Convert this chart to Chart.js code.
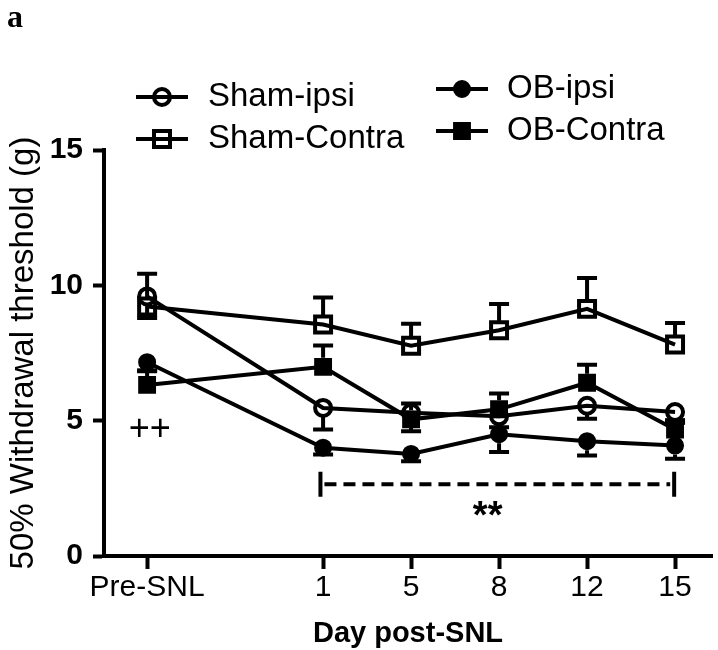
<!DOCTYPE html>
<html lang="en">
<head>
<meta charset="UTF-8">
<title>Withdrawal threshold after SNL</title>
<script src="https://cdn.jsdelivr.net/npm/chart.js@4.4.0/dist/chart.umd.min.js"></script>
<style>
  body { margin: 0; background: #fff; }
  #wrap { position: relative; width: 718px; height: 650px; }
  #panel { position: absolute; left: 7px; top: 0; font: bold 32px "Liberation Serif", serif; line-height: 32px; }
</style>
</head>
<body>
<div id="wrap">
  <canvas id="chart" width="718" height="650"></canvas>
  <div id="panel">a</div>
</div>
<script>
// categories and their slot on the x axis (gap after Pre-SNL)
const dayLabels = ['Pre-SNL', '1', '5', '8', '12', '15'];
const dayPos = [0, 2, 3, 4, 5, 6];

// mean thresholds (g) and SEM
const shamIpsi = [9.59, 5.47, 5.29, 5.16, 5.55, 5.32];
const shamIpsiSem = [0.80, 0.80, 0.68, 0.40, 0.48, 0.30];
const shamContra = [9.22, 8.55, 7.77, 8.34, 9.13, 7.81];
const shamContraSem = [1.21, 1.00, 0.81, 0.97, 1.14, 0.80];
const obIpsi = [7.16, 4.00, 3.77, 4.50, 4.24, 4.08];
const obIpsiSem = [0.30, 0.25, 0.27, 0.66, 0.53, 0.49];
const obContra = [6.32, 6.99, 5.05, 5.42, 6.40, 4.67];
const obContraSem = [0.51, 0.79, 0.58, 0.58, 0.67, 0.25];

const FONT = '"Liberation Sans", Arial, sans-serif';

function pts(vals) {
  return vals.map((v, i) => ({ x: dayPos[i], y: v }));
}

function series(label, vals, sem, dir, style, hollow) {
  const rect = style === 'rect';
  return {
    label: label,
    data: pts(vals),
    sem: sem,
    semDir: dir,
    hollow: hollow,
    markerHalf: 9,
    borderColor: '#000',
    borderWidth: 4,
    tension: 0,
    fill: false,
    pointStyle: style,
    pointRadius: rect ? (hollow ? 11.3 : 10.5) : (hollow ? 8 : 7.5),
    pointBorderWidth: hollow ? 4 : 3,
    pointBorderColor: '#000',
    pointBackgroundColor: hollow ? 'rgba(0,0,0,0)' : '#000'
  };
}

// error bars, one direction per group as in the original
const errorBars = {
  id: 'errorBars',
  afterDatasetsDraw(chart) {
    const { ctx, scales: { x, y } } = chart;
    ctx.save();
    ctx.strokeStyle = '#000';
    ctx.lineWidth = 4;
    ctx.lineCap = 'butt';
    chart.data.datasets.forEach(ds => {
      ds.data.forEach((p, i) => {
        const px = x.getPixelForValue(p.x);
        const py = y.getPixelForValue(p.y);
        const end = y.getPixelForValue(p.y + ds.semDir * ds.sem[i]);
        const len = Math.abs(end - py);
        ctx.beginPath();
        if (len > ds.markerHalf) {
          ctx.moveTo(px, py + Math.sign(end - py) * ds.markerHalf);
          ctx.lineTo(px, end);
        }
        ctx.moveTo(px - 10, end);
        ctx.lineTo(px + 10, end);
        ctx.stroke();
      });
    });
    ctx.restore();
  }
};

// significance marks
const marks = {
  id: 'marks',
  afterDatasetsDraw(chart) {
    const { ctx, scales: { x, y } } = chart;
    const x1 = x.getPixelForValue(1.97);
    const x2 = x.getPixelForValue(5.99);
    const by = y.getPixelForValue(2.65);
    ctx.save();
    ctx.strokeStyle = '#000';
    ctx.fillStyle = '#000';
    ctx.lineWidth = 4;
    ctx.setLineDash([12, 7]);
    ctx.beginPath();
    ctx.moveTo(x1 + 4, by);
    ctx.lineTo(x2 - 4, by);
    ctx.stroke();
    ctx.setLineDash([]);
    ctx.beginPath();
    ctx.moveTo(x1, by - 12.5); ctx.lineTo(x1, by + 12.5);
    ctx.moveTo(x2, by - 12.5); ctx.lineTo(x2, by + 12.5);
    ctx.stroke();

    ctx.textAlign = 'center';
    ctx.textBaseline = 'alphabetic';
    ctx.font = 'bold 38px ' + FONT;
    ctx.fillText('**', x.getPixelForValue(3.87), by + 44);

    ctx.textBaseline = 'middle';
    ctx.font = '36px ' + FONT;
    ctx.fillText('++', x.getPixelForValue(0.03), y.getPixelForValue(4.67));
    ctx.restore();
  }
};

// legend with line + symbol, two columns
const legendSpots = [
  { x1: 136, x2: 188, y: 97, tx: 208 },
  { x1: 136, x2: 188, y: 139, tx: 208 },
  { x1: 436, x2: 488, y: 89, tx: 507 },
  { x1: 436, x2: 488, y: 131, tx: 507 }
];

const lineLegend = {
  id: 'lineLegend',
  afterDraw(chart) {
    const ctx = chart.ctx;
    ctx.save();
    chart.data.datasets.forEach((ds, k) => {
      const s = legendSpots[k];
      const cx = (s.x1 + s.x2) / 2;
      ctx.strokeStyle = '#000';
      ctx.lineWidth = 4;
      ctx.beginPath();
      ctx.moveTo(s.x1, s.y);
      ctx.lineTo(s.x2, s.y);
      ctx.stroke();
      ctx.lineWidth = ds.pointBorderWidth;
      ctx.fillStyle = '#000';
      ctx.beginPath();
      if (ds.pointStyle === 'rect') {
        const h = Math.SQRT1_2 * ds.pointRadius;
        ctx.rect(cx - h, s.y - h, 2 * h, 2 * h);
      } else {
        ctx.arc(cx, s.y, ds.pointRadius, 0, Math.PI * 2);
      }
      if (!ds.hollow) ctx.fill();
      ctx.stroke();
      ctx.font = '33px ' + FONT;
      ctx.textAlign = 'left';
      ctx.textBaseline = 'middle';
      ctx.fillText(ds.label, s.tx, s.y);
    });
    ctx.restore();
  }
};

new Chart(document.getElementById('chart'), {
  type: 'line',
  data: {
    datasets: [
      series('Sham-ipsi', shamIpsi, shamIpsiSem, -1, 'circle', true),
      series('Sham-Contra', shamContra, shamContraSem, 1, 'rect', true),
      series('OB-ipsi', obIpsi, obIpsiSem, -1, 'circle', false),
      series('OB-Contra', obContra, obContraSem, 1, 'rect', false)
    ]
  },
  options: {
    responsive: false,
    animation: false,
    events: [],
    layout: { autoPadding: false, padding: { top: 150, left: 0, right: 6, bottom: 0 } },
    plugins: { legend: { display: false }, tooltip: { enabled: false } },
    scales: {
      x: {
        type: 'linear',
        bounds: 'data',
        min: -0.49,
        max: 6.42,
        afterBuildTicks(scale) { scale.ticks = dayPos.map(v => ({ value: v })); },
        afterFit(scale) {
          scale.height = 94;
          scale.paddingLeft = 0;
          scale.paddingRight = 0;
        },
        ticks: {
          autoSkip: false,
          maxRotation: 0,
          color: '#000',
          padding: 1,
          font: { family: FONT, size: 30 },
          callback: v => dayLabels[dayPos.indexOf(v)]
        },
        grid: { drawOnChartArea: false, drawTicks: true, tickLength: 13, tickWidth: 4, tickColor: '#000' },
        border: { display: true, width: 4, color: '#000' },
        title: {
          display: true,
          text: 'Day post-SNL',
          color: '#000',
          font: { family: FONT, size: 29, weight: 'bold', lineHeight: 1 },
          padding: { top: 0, bottom: 1.5 }
        }
      },
      y: {
        min: 0,
        max: 15,
        afterFit(scale) { scale.width = 104; },
        ticks: {
          stepSize: 5,
          color: '#000',
          padding: 10,
          font: { family: FONT, size: 30, weight: 'bold' }
        },
        grid: { drawOnChartArea: false, drawTicks: true, tickLength: 11, tickWidth: 4, tickColor: '#000' },
        border: { display: true, width: 4, color: '#000' },
        title: {
          display: true,
          text: '50% Withdrawal threshold (g)',
          color: '#000',
          font: { family: FONT, size: 33 },
          padding: { top: 4, bottom: 0 }
        }
      }
    }
  },
  plugins: [errorBars, marks, lineLegend]
});
</script>
</body>
</html>
